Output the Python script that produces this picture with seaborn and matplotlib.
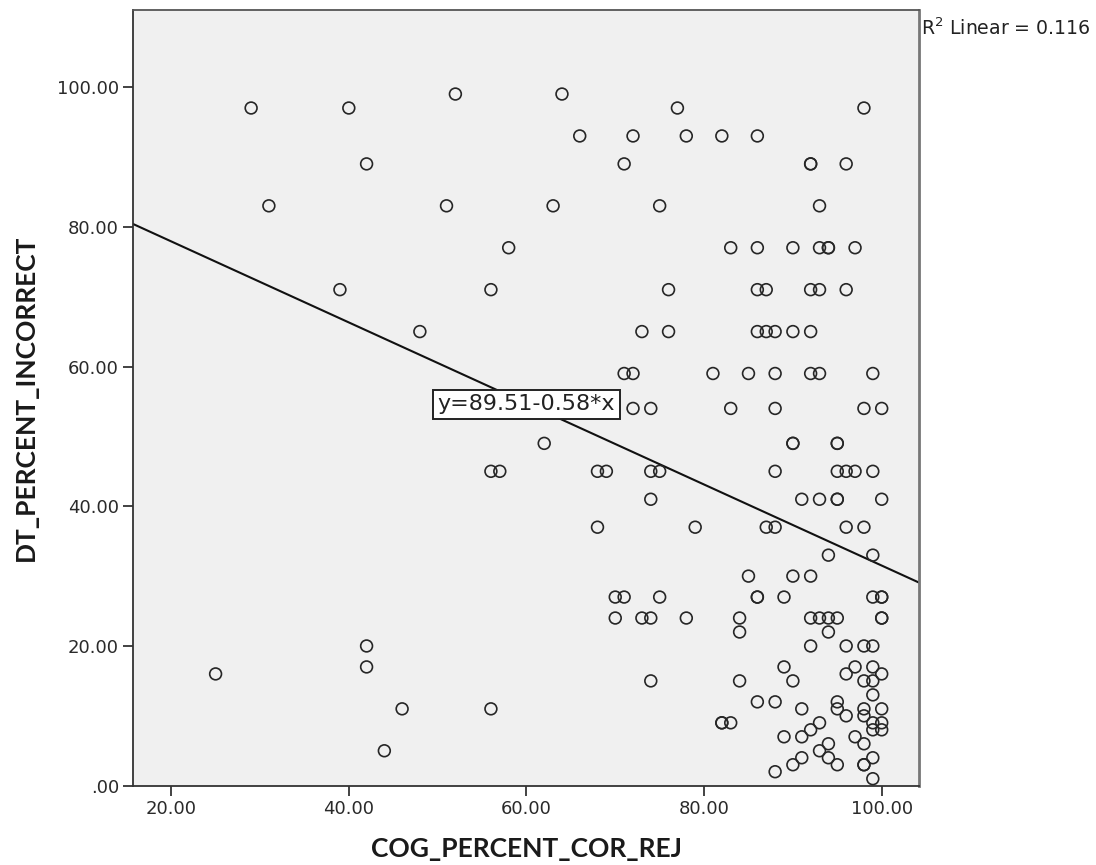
import numpy as np
import pandas as pd
import seaborn as sns
import matplotlib
matplotlib.use("Agg")
import matplotlib.pyplot as plt
from matplotlib.ticker import FuncFormatter

# ---- data ----
cog_percent_cor_rej = [
    25, 29, 31, 39, 40, 42, 42, 42, 44, 46, 48, 51, 52, 56, 56, 57, 56, 58, 62, 63,
    64, 66, 68, 69, 68, 70, 71, 70, 71, 71, 72, 72, 72, 73, 73, 74, 74, 75, 74, 74,
    74, 75, 75, 76, 76, 77, 78, 78, 79, 81, 82, 82, 82, 83, 83, 83, 84, 84, 84, 85,
    85, 86, 86, 86, 86, 86, 86, 86, 87, 87, 87, 88, 88, 88, 88, 88, 88, 88, 89, 89,
    89, 90, 90, 90, 90, 90, 90, 90, 91, 91, 91, 91, 92, 92, 92, 92, 92, 92, 92, 92,
    92, 93, 93, 93, 93, 93, 93, 93, 93, 94, 94, 94, 94, 94, 94, 94, 95, 95, 95, 95,
    95, 95, 95, 95, 95, 96, 96, 96, 96, 96, 96, 96, 97, 97, 97, 97, 98, 98, 98, 98,
    98, 98, 98, 98, 98, 98, 99, 99, 99, 99, 99, 99, 99, 99, 99, 99, 99, 99, 100, 100,
    100, 100, 100, 100, 100, 100, 100, 100,
]
dt_percent_incorrect = [
    16, 97, 83, 71, 97, 89, 20, 17, 5, 11, 65, 83, 99, 71, 45, 45, 11, 77, 49, 83,
    99, 93, 45, 45, 37, 27, 27, 24, 89, 59, 59, 93, 54, 65, 24, 54, 45, 45, 41, 24,
    15, 83, 27, 71, 65, 97, 93, 24, 37, 59, 93, 9, 9, 9, 77, 54, 24, 22, 15, 59,
    30, 93, 77, 71, 65, 27, 27, 12, 71, 65, 37, 65, 59, 54, 45, 37, 12, 2, 27, 17,
    7, 77, 65, 49, 49, 30, 15, 3, 41, 11, 7, 4, 89, 89, 71, 65, 59, 30, 24, 20,
    8, 83, 77, 71, 59, 41, 24, 9, 5, 77, 77, 33, 24, 22, 6, 4, 49, 49, 45, 41,
    41, 24, 12, 11, 3, 89, 71, 45, 37, 20, 16, 10, 77, 45, 17, 7, 97, 54, 37, 20,
    15, 11, 10, 6, 3, 3, 59, 45, 33, 27, 20, 17, 15, 13, 9, 8, 4, 1, 54, 41,
    27, 27, 24, 24, 16, 11, 9, 8,
]
fit_intercept = 89.51
fit_slope = -0.58
r_squared = 0.116
x_ticks = [20, 40, 60, 80, 100]
y_ticks = [0, 20, 40, 60, 80, 100]
x_label = "COG_PERCENT_COR_REJ"
y_label = "DT_PERCENT_INCORRECT"

df = pd.DataFrame({x_label: cog_percent_cor_rej, y_label: dt_percent_incorrect})

sns.set_theme(style="white")
plt.rcParams["font.family"] = ["DejaVu Sans"]

fig = plt.figure(figsize=(10.96, 8.65), dpi=100)
# axes box: x 133..919 px, y 9.5..785.7 px
ax = fig.add_axes([133 / 1096, 1 - 785.7 / 865, 786 / 1096, 776.2 / 865])
ax.set_facecolor("#f0f0f0")

sns.scatterplot(data=df, x=x_label, y=y_label, ax=ax, marker="o",
                s=72, facecolor="none", edgecolor="#262626", linewidth=1.2,
                zorder=3)

xlim = (15.7, 104.2)
ylim = (0, 111.1)
ax.set_xlim(*xlim)
ax.set_ylim(*ylim)

xs = np.array(xlim)
ax.plot(xs, fit_intercept + fit_slope * xs, color="#111111", lw=1.5, zorder=2)

def fmt(v, pos):
    s = f"{v:.2f}"
    return s[1:] if s.startswith("0") else s

ax.set_xticks(x_ticks)
ax.set_yticks(y_ticks)
ax.xaxis.set_major_formatter(FuncFormatter(fmt))
ax.yaxis.set_major_formatter(FuncFormatter(fmt))
ax.tick_params(axis="both", which="major", direction="out", length=7.5, width=1.2,
               color="#222222", labelsize=13, labelcolor="#2a2a2a", pad=2.5,
               bottom=True, left=True)

for side in ["left", "bottom", "top", "right"]:
    ax.spines[side].set_visible(True)
    ax.spines[side].set_color("#333333")
    ax.spines[side].set_linewidth(1.3)
ax.spines["right"].set_color("#777777")
ax.spines["right"].set_linewidth(2)
ax.spines["top"].set_color("#555555")

ax.set_xlabel(x_label, fontsize=19, fontweight="bold", color="#1a1a1a",
              family=["Lato", "DejaVu Sans"], labelpad=14)
ax.set_ylabel(y_label, fontsize=19, fontweight="bold", color="#1a1a1a",
              family=["Lato", "DejaVu Sans"], labelpad=14)

ax.text(60, 54.6, f"y={fit_intercept:.2f}-{abs(fit_slope):.2f}*x", fontsize=16,
        ha="center", va="center", color="#222222", zorder=5,
        bbox=dict(boxstyle="square,pad=0.2", fc="white", ec="#222222", lw=1.4))

ax.text(1.003, 0.976, f"R$^2$ Linear = {r_squared:.3f}", transform=ax.transAxes,
        fontsize=13.6, ha="left", va="center", color="#222222")

fig.savefig("out.png", dpi=100)
